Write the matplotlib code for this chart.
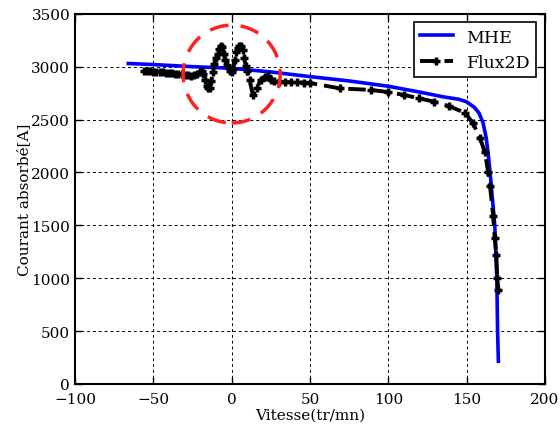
import matplotlib
matplotlib.use('Agg')
import matplotlib.pyplot as plt
from matplotlib.patches import Ellipse

# MHE model (blue)
mhe_vitesse = [-66, -50, -25, 0, 25, 50, 75, 100, 120, 135, 145, 150, 155, 158,
               160.5, 162.5, 164, 165.3, 166.5, 168, 169.3, 169.8, 170.3]
mhe_courant = [3030, 3020, 3000, 2985, 2950, 2906, 2865, 2815, 2760, 2715, 2692,
               2668, 2615, 2560, 2470, 2330, 2150, 1950, 1750, 1500, 1000, 500, 215]

# Flux2D simulation (black, dashed with markers)
flux_vitesse = [-56, -54, -52, -50, -48, -46, -44, -42, -40, -38, -36, -34, -32,
                -30, -28, -26, -24, -22, -20, -19, -18, -17, -16, -15, -14, -13,
                -12, -11, -10, -9, -8, -7, -6, -5, -4, -3, -2, -1, 0, 1, 2, 3,
                4, 5, 6, 7, 8, 9, 10, 11.5, 13.6, 16, 18.5, 21, 23, 25, 27, 30,
                34, 38, 42, 46, 50, 69, 89, 100, 110, 119.5, 129, 139, 149, 154,
                158.5, 161.7, 163.8, 165, 167, 168, 169, 169.6, 170.3]
flux_courant = [2962, 2958, 2955, 2950, 2948, 2946, 2945, 2942, 2940, 2936, 2932,
                2930, 2928, 2925, 2920, 2915, 2918, 2930, 2950, 2960, 2930, 2870,
                2820, 2795, 2800, 2860, 2950, 3030, 3080, 3120, 3170, 3200, 3190,
                3120, 3060, 3020, 2990, 2960, 2950, 2980, 3060, 3140, 3180, 3200,
                3200, 3160, 3080, 3010, 2960, 2870, 2730, 2800, 2870, 2905, 2915,
                2870, 2860, 2858, 2855, 2853, 2852, 2850, 2846, 2795, 2780, 2760,
                2733, 2701, 2670, 2625, 2564, 2468, 2330, 2190, 2000, 1871, 1584,
                1380, 1220, 1000, 888]

plt.rcParams['font.family'] = ['DejaVu Serif']
plt.rcParams['font.size'] = 11

fig = plt.figure(figsize=(5.6, 4.35), dpi=100)
ax = fig.add_axes([0.134, 0.115, 0.839, 0.851])

ax.plot(mhe_vitesse, mhe_courant, color='#0000ff', lw=2.6, label='MHE')
ax.plot(flux_vitesse, flux_courant, color='black', lw=2.8,
        ls=(0, (4.5, 1.8)), marker='+', ms=5.5, mew=2.5, label='Flux2D')

# cercle rouge autour des oscillations
cercle = Ellipse((0, 2930), 62, 925, fill=False, edgecolor='#ff2020',
                 lw=2.5, ls=(0, (5.5, 3.5)), zorder=5)
ax.add_patch(cercle)

ax.set_xlim(-100, 200)
ax.set_ylim(0, 3500)
ax.set_xticks(range(-100, 201, 50))
ax.set_yticks(range(0, 3501, 500))
ax.grid(True, color='black', ls=(0, (3, 3)), lw=0.7)
ax.tick_params(direction='in', top=True, right=True, length=5, width=1)
ax.tick_params(axis='x', pad=6)
for s in ax.spines.values():
    s.set_linewidth(1.5)

ax.set_xlabel('Vitesse(tr/mn)', labelpad=1)
ax.set_ylabel('Courant absorbé[A]', labelpad=0)

leg = ax.legend(loc='upper right', fancybox=False, edgecolor='black',
                framealpha=1, borderaxespad=0.5, handlelength=1.9,
                handletextpad=0.8, borderpad=0.35, fontsize=12.5)
leg.get_frame().set_linewidth(1.2)

fig.savefig('out.png', dpi=100)
